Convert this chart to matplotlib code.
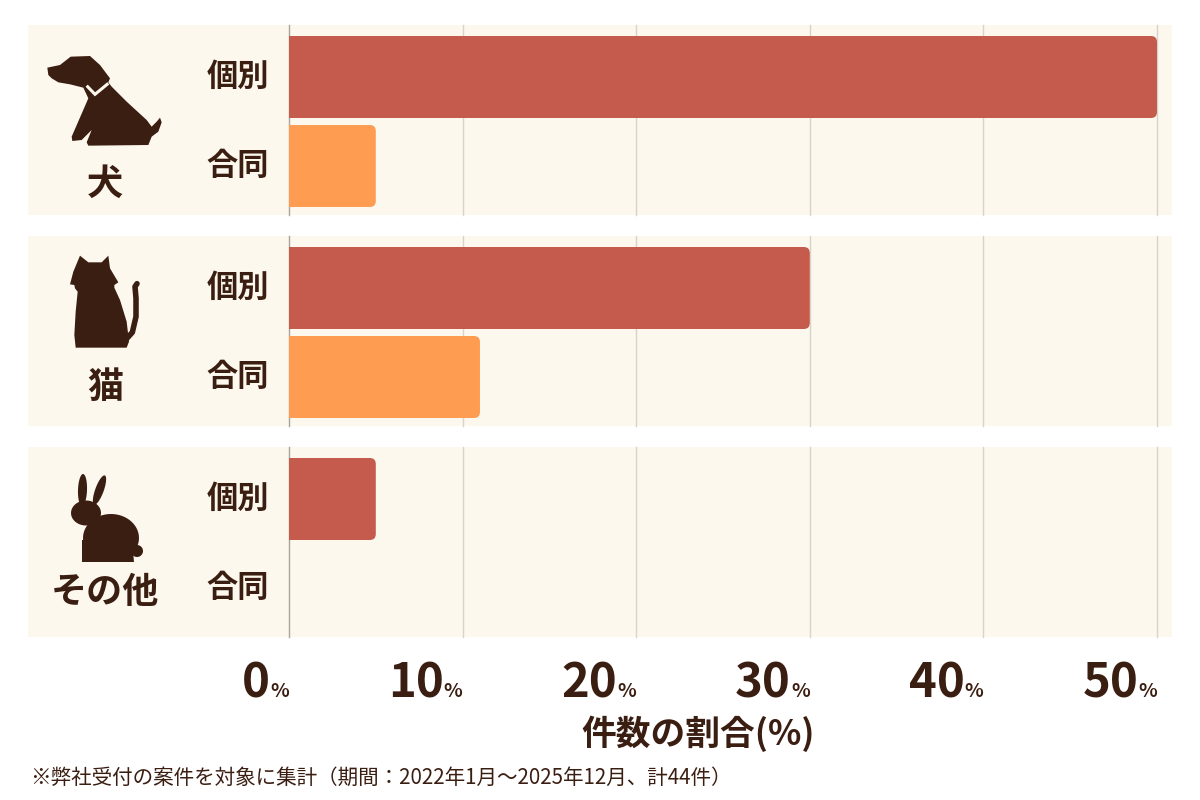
import matplotlib.pyplot as plt
from matplotlib.patches import FancyBboxPatch, Rectangle, Polygon
import numpy as np

plt.rcParams['font.family'] = ['Noto Sans CJK JP', 'DejaVu Sans']

# data
animals = ['犬', '猫', 'その他']
kinds = ['個別', '合同']
kobetsu = [50, 30, 5]      # 個別 (%)
goudou = [5, 11, 0]        # 合同 (%)
ticks = [0, 10, 20, 30, 40, 50]
xlabel = '件数の割合(%)'
note = '※弊社受付の案件を対象に集計（期間：2022年1月～2025年12月、計44件）'

brown = '#3b1e12'
c_kobetsu = '#c55b4c'
c_goudou = '#fe9c52'
panel = '#fcf8ee'
grid = '#d8d3cb'

W, H = 1200, 800
x0, x50 = 289, 1157
ppu = (x50 - x0) / 50.0

fig = plt.figure(figsize=(12, 8), dpi=100)
ax = fig.add_axes([0, 0, 1, 1])
ax.set_xlim(-x0 / ppu, (W - x0) / ppu)
ax.set_ylim(H, 0)
ax.axis('off')


def dx(px):
    return (px - x0) / ppu


centres = 121.5 + 211 * np.arange(len(animals))
half = 44.5

# panels + grid
for c in centres:
    ax.add_patch(Rectangle((dx(28), c - 96.5), dx(1172) - dx(28), 190,
                           fc=panel, ec='none', zorder=0))
    for t in ticks:
        ax.plot([t, t], [c - 96.5, c + 93.5], color='#a9a49d' if t == 0 else grid,
                lw=1, zorder=1)

# bars (right side rounded)
for ys, vals, col in [(centres - half, kobetsu, c_kobetsu),
                      (centres + half, goudou, c_goudou)]:
    bars = ax.barh(ys, vals, height=82, color=col, zorder=2)
    for b in bars:
        w = b.get_width()
        if w <= 0:
            continue
        ax.add_patch(FancyBboxPatch((b.get_x(), b.get_y()), w, b.get_height(),
                                    boxstyle='round,pad=0,rounding_size=%f' % (6 / ppu),
                                    mutation_aspect=ppu, fc=col, ec='none', zorder=2))
        b.set_width(w / 2)

# labels
name_dy = [63, 55, 49]
for i, c in enumerate(centres):
    ax.text(dx(269), c - half, kinds[0], ha='right', va='center',
            fontsize=22.5, fontweight='bold', color=brown)
    ax.text(dx(269), c + half, kinds[1], ha='right', va='center',
            fontsize=22.5, fontweight='bold', color=brown)
    ax.text(dx(105), c + name_dy[i], animals[i], ha='center', va='center',
            fontsize=26, fontweight='bold', color=brown)

for t in ticks:
    ax.annotate(str(t), (t, 697), xytext=(-13.5, 0), textcoords='offset points',
                ha='right', va='baseline', fontsize=34, fontweight='bold', color=brown)
    ax.annotate('%', (t, 697), xytext=(0, 0), textcoords='offset points',
                ha='right', va='baseline', fontsize=14, fontweight='bold', color=brown)

ax.text(dx(698), 734, xlabel, ha='center', va='center', fontsize=25,
        fontweight='bold', color=brown)
ax.text(dx(30), 778, note, ha='left', va='center', fontsize=14.8, color=brown)


# icons (outline points, in zoom pixels)
def conv(pts, ox, oy):
    return [(dx(X / 3.0 + ox), Y / 3.0 + oy) for X, Y in pts]


def blob(cx, cy, w, h, ang=0):
    th = np.linspace(0, 2 * np.pi, 60)
    ex, ey = w / 2 * np.cos(th), h / 2 * np.sin(th)
    a = np.radians(ang)
    px = cx + ex * np.cos(a) - ey * np.sin(a)
    py = cy + ex * np.sin(a) + ey * np.cos(a)
    return list(zip(dx(px), py))


def fill(pts):
    ax.add_patch(Polygon(pts, closed=True, fc=brown, ec='none', zorder=3))


dog = [(22, 68), (60, 60), (92, 35), (150, 33), (180, 60), (210, 100), (205, 112),
       (215, 125), (260, 170), (320, 225), (335, 245), (350, 230), (360, 218),
       (365, 232), (355, 260), (335, 275), (325, 300), (145, 302), (140, 292),
       (155, 255), (125, 285), (97, 288), (95, 275), (145, 160), (130, 128),
       (90, 118), (55, 112), (35, 100), (25, 90)]
fill(conv(dog, 40, 45))
collar = np.array(conv([(140, 122), (165, 148), (205, 115)], 40, 45))
ax.plot(collar[:, 0], collar[:, 1], color=panel, lw=2.2, zorder=4,
        solid_capstyle='butt', solid_joinstyle='miter')

cat = [(75, 32), (100, 52), (140, 52), (160, 32), (165, 70), (190, 112), (178, 120),
       (178, 128), (195, 165), (215, 230), (222, 290), (215, 308), (62, 308),
       (58, 270), (62, 200), (68, 140), (60, 130), (58, 120), (45, 118), (55, 80)]
fill(conv(cat, 55, 245))
tail = np.array(conv([(205, 292), (232, 262), (243, 215), (243, 160), (240, 125),
                      (246, 116)], 55, 245))
ax.plot(tail[:, 0], tail[:, 1], color=brown, lw=4, zorder=3,
        solid_capstyle='round', solid_joinstyle='round')

fill(blob(82.5, 490, 9, 32, 2))
fill(blob(99.5, 490, 8.5, 31, 20))
fill(blob(86, 513, 30, 25))
fill(blob(111, 538, 56, 48))
fill(blob(137, 551, 12, 12))
fill([(dx(82), 540), (dx(132), 540), (dx(134), 562), (dx(82), 562)])

fig.savefig('out.png', dpi=100, facecolor='white')
